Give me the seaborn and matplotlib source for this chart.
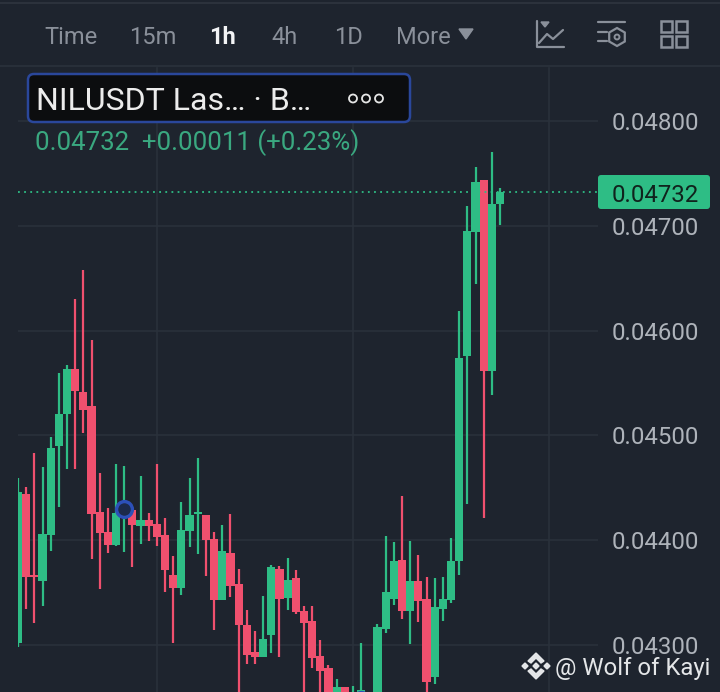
import numpy as np
import pandas as pd
import matplotlib
matplotlib.use('Agg')
import matplotlib.pyplot as plt
from matplotlib.patches import FancyBboxPatch, Polygon, Rectangle, RegularPolygon
import seaborn as sns

# prices in 1e-5 USDT (last candles below the frame are guesses)
highs = [4459,4451,4483,4470,4498,4559,4567,4630,4658,4591,4464,4431,4473,4471,4431,4461,4426,4473,4421,4385,
         4436,4459,4478,4424,4408,4414,4425,4372,4333,4313,4347,4376,4375,4383,4371,4337,4337,4305,4281,4267,
         4260,4261,4302,4245,4320,4404,4398,4442,4399,4386,4365,4364,4365,4402,4619,4719,4756,4744,4770,4736]
lows = [4298,4334,4321,4337,4390,4432,4468,4468,4502,4382,4353,4388,4394,4389,4374,4396,4399,4394,4350,4302,
        4348,4393,4387,4366,4314,4343,4346,4240,4282,4282,4288,4292,4288,4333,4329,4240,4278,4240,4235,4230,
        4230,4230,4220,4225,4235,4311,4338,4325,4301,4322,4240,4263,4323,4340,4367,4434,4644,4421,4538,4701]
opens = [4302,4444,4367,4361,4405,4490,4520,4563,4541,4528,4427,4408,4395,4421,4429,4413,4419,4415,4405,4367,
         4354,4409,4425,4424,4401,4343,4388,4358,4319,4293,4288,4309,4372,4345,4364,4332,4323,4289,4278,4240,
         4260,4235,4225,4230,4240,4315,4344,4381,4332,4361,4344,4269,4334,4343,4380,4576,4694,4744,4561,4721]
closes = [4446,4365,4365,4406,4488,4520,4563,4542,4524,4425,4407,4395,4426,4430,4414,4419,4413,4403,4371,4354,
          4410,4424,4427,4400,4343,4390,4356,4319,4290,4288,4306,4374,4344,4362,4331,4321,4287,4275,4245,4260,
          4235,4250,4257,4240,4317,4350,4380,4332,4361,4342,4265,4336,4344,4380,4574,4695,4742,4561,4721,4732]
price_ticks = [0.048, 0.047, 0.046, 0.045, 0.044, 0.043]
grid_x = [17, 41, 65]
marker_idx = [13, 42]
marker_price = [4430, 4247]
last_price = 0.04732

header_labels = ['Time', '15m', '1h', '4h', '1D', 'More']
header_x = [44, 129, 209, 271, 334, 396]
legend_name = 'NILUSDT Las\u2026 \u00b7 B\u2026'
legend_values = '0.04732  +0.00011 (+0.23%)'
watermark = '@ Wolf of Kayi'

BG = '#1e242e'
GRID = '#2a313b'
GREEN = '#2ebd85'
RED = '#f0506e'
TICK = '#aeb3ba'
MUTED = '#8a909a'

sns.set_theme(style='dark', rc={'figure.facecolor': BG, 'axes.facecolor': BG})
plt.rcParams['font.family'] = ['Roboto', 'DejaVu Sans']

df = pd.DataFrame({'i': np.arange(len(opens)), 'open': opens, 'close': closes, 'high': highs, 'low': lows})
df[['open', 'close', 'high', 'low']] = df[['open', 'close', 'high', 'low']] / 1e5
df['up'] = df['close'] >= df['open']
df['body_low'] = df[['open', 'close']].min(axis=1)
df['body'] = (df['close'] - df['open']).abs().clip(lower=0.00002)

fig = plt.figure(figsize=(7.2, 6.92), dpi=100)
ax = fig.add_axes([18 / 720, 0, 580 / 720, 625 / 692])

# wicks first, bodies on top
ax.vlines(df['i'], df['low'], df['high'], colors=df['up'].map({True: GREEN, False: RED}), linewidth=1.6, zorder=2)
for up, col in [(True, GREEN), (False, RED)]:
    part = df[df['up'] == up]
    sns.barplot(data=part, x='i', y='body', bottom=part['body_low'].values, color=col, saturation=1,
                native_scale=True, width=1.0, errorbar=None, linewidth=0, ax=ax, zorder=3)

ax.set_xlim(0, 580 / 8.17)
ax.set_ylim(0.04255, 0.048515)
ax.set_xlabel('')
ax.set_ylabel('')
ax.set_xticks(grid_x)
ax.tick_params(axis='x', length=0, labelbottom=False)
ax.yaxis.tick_right()
ax.set_yticks(price_ticks)
ax.set_yticklabels(['%.5f' % p for p in price_ticks], color=TICK, fontsize=17.3)
ax.tick_params(axis='y', length=0, pad=10)
ax.grid(True, color=GRID, linewidth=1.2, zorder=0)
ax.set_axisbelow(True)
sns.despine(ax=ax, left=True, bottom=True, right=True, top=True)

ax.axhline(last_price, color=GREEN, linestyle=(0, (1, 2.4)), linewidth=1.3, zorder=4)
sns.scatterplot(x=marker_idx, y=np.array(marker_price) / 1e5, s=130, color='#1c2a4a', edgecolor='#2c50b8',
                linewidth=2.4, ax=ax, zorder=6, legend=False, clip_on=True)

# header, legend box, price tag and watermark on a pixel-sized overlay
ov = fig.add_axes([0, 0, 1, 1], facecolor='none')
ov.set_xlim(0, 720)
ov.set_ylim(692, 0)
ov.axis('off')

ov.add_patch(Rectangle((0, 0), 720, 66, color=BG, zorder=1))
ov.plot([0, 720], [3, 3], color='#2f3640', linewidth=1.2, zorder=2)
ov.plot([0, 720], [65.5, 65.5], color='#282f39', linewidth=1.5, zorder=2)

for lab, x in zip(header_labels, header_x):
    active = lab == '1h'
    ov.text(x, 35, lab, color='#f2f3f5' if active else MUTED, fontsize=17, va='center_baseline',
            fontweight='bold' if active else 'normal', zorder=3)
ov.add_patch(Polygon([[459, 29], [473, 29], [466, 39]], color=MUTED, zorder=3))

# toolbar icons
ic = dict(color=MUTED, linewidth=1.6, zorder=3)
ov.plot([537, 537, 564], [21, 47, 47], **ic)
ov.plot([539, 547, 553, 563], [43, 34, 39, 30], **ic)
ov.add_patch(Polygon([[541, 22], [549, 22], [545, 27]], color=MUTED, zorder=3))
ov.plot([598, 625], [22, 22], **ic)
ov.plot([598, 607], [32, 32], **ic)
ov.plot([598, 607], [41, 41], **ic)
ov.add_patch(RegularPolygon((617, 37), 6, radius=9, fill=False, edgecolor=MUTED, linewidth=1.6, zorder=3))
ov.add_patch(RegularPolygon((617, 37), 12, radius=2.5, fill=False, edgecolor=MUTED, linewidth=1.4, zorder=3))
for x0 in [661, 676]:
    for y0 in [21, 36]:
        ov.add_patch(Rectangle((x0, y0), 11, 11, fill=False, edgecolor=MUTED, linewidth=1.8, zorder=3))

ov.add_patch(FancyBboxPatch((28, 74), 382, 48, boxstyle='round,pad=0,rounding_size=6', facecolor='#0c0d0f',
                            edgecolor='#2a479b', linewidth=1.8, zorder=5))
ov.text(36, 98, legend_name, color='#ececec', fontsize=23, va='center_baseline', zorder=6)
for x in [353, 366, 379]:
    ov.add_patch(plt.Circle((x, 98.5), 4, fill=False, edgecolor='#e6e6e6', linewidth=1.3, zorder=6))
ov.text(35, 140, legend_values, color='#3aa880', fontsize=18.6, va='center_baseline', zorder=6)

ov.add_patch(FancyBboxPatch((598, 175), 112, 34, boxstyle='round,pad=0,rounding_size=3', facecolor=GREEN,
                            edgecolor='none', zorder=5))
ov.text(655, 192.5, '%.5f' % last_price, color='#10231d', fontsize=17.3, ha='center', va='center_baseline', zorder=6)

# Binance style logo
cx, cy = 536, 666
wm = '#e4e6e8'
for dx, dy, r in [(0, 0, 3), (-11, 0, 3), (11, 0, 3)]:
    ov.add_patch(RegularPolygon((cx + dx, cy + dy), 4, radius=r, color=wm, zorder=7))
ov.add_patch(Polygon([[cx, cy - 13], [cx + 8, cy - 5], [cx + 5, cy - 3], [cx, cy - 8], [cx - 5, cy - 3], [cx - 8, cy - 5]],
                     color=wm, zorder=7))
ov.add_patch(Polygon([[cx, cy + 13], [cx + 8, cy + 5], [cx + 5, cy + 3], [cx, cy + 8], [cx - 5, cy + 3], [cx - 8, cy + 5]],
                     color=wm, zorder=7))
ov.text(555, 666, watermark, color=wm, fontsize=17.2, va='center_baseline', zorder=7)

fig.savefig('out.png', dpi=100, facecolor=BG)
